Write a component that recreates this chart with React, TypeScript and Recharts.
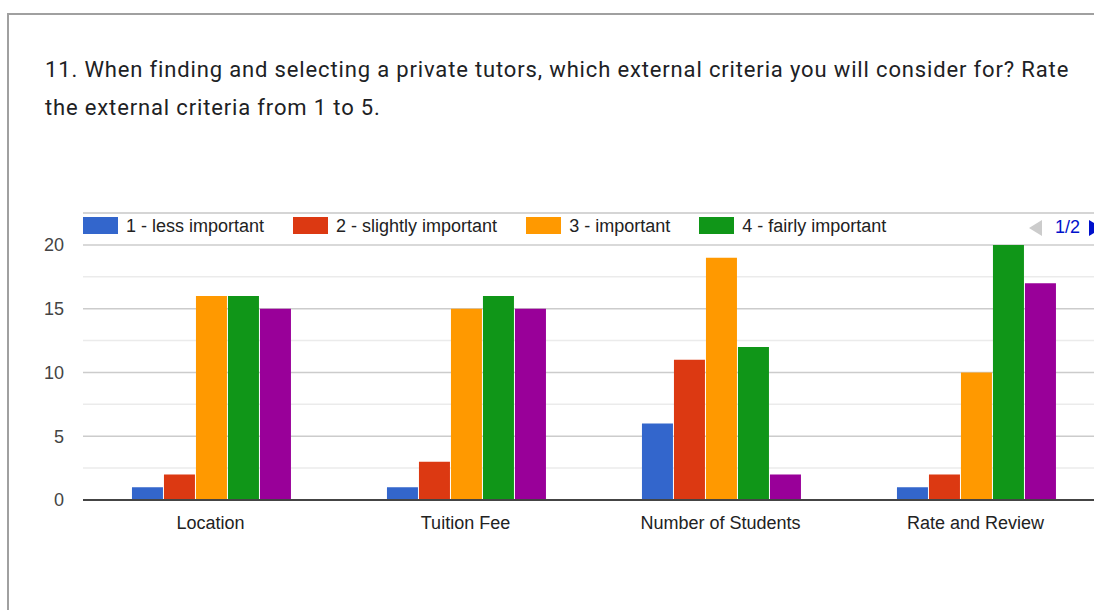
import { BarChart, Bar, XAxis, YAxis, CartesianGrid } from "recharts";

const criteria = ["Location", "Tuition Fee", "Number of Students", "Rate and Review"];
const lessImportant = [1, 1, 6, 1];
const slightlyImportant = [2, 3, 11, 2];
const important = [16, 15, 19, 10];
const fairlyImportant = [16, 16, 12, 20];
const veryImportant = [15, 15, 2, 17];

const seriesNames = [
  "1 - less important",
  "2 - slightly important",
  "3 - important",
  "4 - fairly important",
  "5 - very important",
];
const seriesColors = ["#3366cc", "#dc3912", "#ff9900", "#109618", "#990099"];
const seriesValues = [lessImportant, slightlyImportant, important, fairlyImportant, veryImportant];

const majorTicks = [0, 5, 10, 15, 20];
const minorTicks = [2.5, 7.5, 12.5, 17.5, 22.5];

const data = criteria.map((name, i) => {
  const row: Record<string, string | number> = { name };
  seriesNames.forEach((s, k) => {
    row[s] = seriesValues[k][i];
  });
  return row;
});

const titleLines = [
  "11. When finding and selecting a private tutors, which external criteria you will consider for? Rate",
  "the external criteria from 1 to 5.",
];

const axisFont = "'Liberation Sans', Arial, sans-serif";

// recharts 3 hands the grid generator either a d3 scale or a wrapper around one
function project(scale: any, v: number): number | undefined {
  if (!scale) return undefined;
  if (typeof scale === "function") return scale(v);
  if (typeof scale.map === "function") return scale.map(v);
  if (typeof scale.apply === "function") return scale.apply(v);
  if (typeof scale.scale === "function") return scale.scale(v);
  return undefined;
}

function Legend() {
  return (
    <div
      style={{
        position: "absolute",
        left: 83,
        top: 217,
        height: 17,
        display: "flex",
        alignItems: "center",
        fontFamily: axisFont,
        fontSize: 18,
        color: "#222",
        whiteSpace: "nowrap",
      }}
    >
      {seriesNames.slice(0, 4).map((s, k) => (
        <div key={s} style={{ display: "flex", alignItems: "center", marginRight: 29 }}>
          <span
            style={{
              display: "inline-block",
              width: 35,
              height: 17,
              background: seriesColors[k],
              marginRight: 8,
            }}
          />
          <span style={{ marginTop: 2 }}>{s}</span>
        </div>
      ))}
    </div>
  );
}

function LegendPager() {
  return (
    <div
      style={{
        position: "absolute",
        left: 1029,
        top: 218,
        height: 19,
        display: "flex",
        alignItems: "center",
        fontFamily: axisFont,
        fontSize: 18,
        color: "#0011cc",
        whiteSpace: "nowrap",
      }}
    >
      <span
        style={{
          width: 0,
          height: 0,
          borderTop: "8px solid transparent",
          borderBottom: "8px solid transparent",
          borderRight: "13px solid #ccc",
          marginRight: 13,
        }}
      />
      <span>1/2</span>
      <span
        style={{
          width: 0,
          height: 0,
          borderTop: "8px solid transparent",
          borderBottom: "8px solid transparent",
          borderLeft: "13px solid #0011cc",
          marginLeft: 9,
        }}
      />
    </div>
  );
}

export default function App() {
  return (
    <div
      style={{
        position: "fixed",
        left: 0,
        top: 0,
        width: 1094,
        height: 610,
        overflow: "hidden",
        background: "#fff",
      }}
    >
      <div
        style={{
          position: "absolute",
          left: 7,
          top: 13,
          width: 1300,
          height: 800,
          border: "2px solid #a0a0a0",
        }}
      />
      <div
        style={{
          position: "absolute",
          left: 45,
          top: 51,
          fontFamily: "Roboto, sans-serif",
          fontSize: 22,
          letterSpacing: "0.85px",
          lineHeight: "38px",
          color: "#202124",
          whiteSpace: "nowrap",
        }}
      >
        {titleLines.map((t) => (
          <div key={t}>{t}</div>
        ))}
      </div>
      <div style={{ position: "absolute", left: 0, top: 0 }}>
        <BarChart
          width={1120}
          height={600}
          data={data}
          margin={{ top: 213, right: 17, bottom: 70, left: 23 }}
          barCategoryGap="19.2%"
          barGap={1}
          style={{ fontFamily: axisFont }}
        >
          <CartesianGrid
            vertical={false}
            stroke="#ebebeb"
            strokeWidth={1.5}
            syncWithTicks={false}
            horizontalCoordinatesGenerator={({ yAxis }: any) =>
              minorTicks
                .map((v) => project(yAxis && yAxis.scale, v))
                .filter((p): p is number => typeof p === "number" && !isNaN(p))
            }
          />
          <CartesianGrid vertical={false} stroke="#cccccc" strokeWidth={1.5} />
          <XAxis
            dataKey="name"
            tickLine={false}
            tickSize={0}
            tickMargin={16}
            axisLine={{ stroke: "#444", strokeWidth: 2 }}
            tick={{ fill: "#222", fontSize: 18 }}
          />
          <YAxis
            width={60}
            domain={[0, 22.5]}
            ticks={majorTicks}
            interval={0}
            axisLine={false}
            tickLine={false}
            tickSize={0}
            tickMargin={19}
            tick={{ fill: "#444", fontSize: 18 }}
          />
          {seriesNames.map((s, k) => (
            <Bar key={s} dataKey={s} fill={seriesColors[k]} isAnimationActive={false} />
          ))}
        </BarChart>
      </div>
      <Legend />
      <LegendPager />
    </div>
  );
}
